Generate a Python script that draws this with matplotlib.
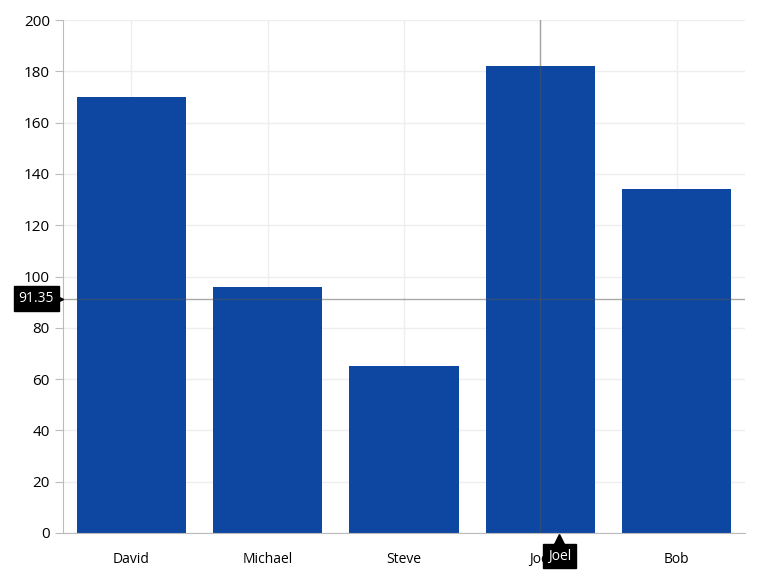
import matplotlib.pyplot as plt
from matplotlib.transforms import blended_transform_factory

names = ["David", "Michael", "Steve", "Joel", "Bob"]
values = [170, 96, 65, 182, 134]
cross_x = "Joel"
cross_y = 91.35

plt.rcParams["font.family"] = ["Open Sans", "DejaVu Sans"]

fig = plt.figure(figsize=(7.7, 5.82), dpi=100)
ax = fig.add_axes([63 / 770, 49 / 582, 682 / 770, 513 / 582])

x = list(range(len(names)))
ax.bar(x, values, width=0.8, color="#0D47A1", zorder=2)
ax.set_xlim(-0.5, len(names) - 0.5)
ax.set_ylim(0, 200)
ax.set_yticks(range(0, 201, 20))
ax.set_xticks(x)
ax.set_xticklabels(names, fontsize=10)
ax.tick_params(axis="y", labelsize=11, length=6, color="#bbbbbb")
ax.tick_params(axis="x", length=0, pad=14)
ax.grid(True, axis="y", color="#eeeeee", lw=1, zorder=0)
for i in x:
    ax.axvline(i, color="#eeeeee", lw=1, zorder=0)
for s in ["top", "right"]:
    ax.spines[s].set_visible(False)
for s in ["left", "bottom"]:
    ax.spines[s].set_color("#bbbbbb")

# crosshair
cx = names.index(cross_x)
ax.axvline(cx, color="#555555", lw=1, alpha=0.5, zorder=3)
ax.axhline(cross_y, color="#555555", lw=1, alpha=0.5, zorder=3)

box = dict(boxstyle="square,pad=0.35", fc="black", ec="black")
ty = blended_transform_factory(ax.transAxes, ax.transData)
ax.text(-0.013, cross_y, f"{cross_y:.2f}", transform=ty, ha="right", va="center",
        color="white", fontsize=10, bbox=box, clip_on=False, zorder=5)
ax.plot([-0.007], [cross_y], marker=">", color="black", ms=7, transform=ty, clip_on=False, zorder=5)
tx = blended_transform_factory(ax.transData, ax.transAxes)
ax.text(cx + 0.14, -0.045, cross_x, transform=tx, ha="center", va="center",
        color="white", fontsize=10, bbox=box, clip_on=False, zorder=5)
ax.plot([cx + 0.14], [-0.012], marker="^", color="black", ms=7, transform=tx, clip_on=False, zorder=5)

fig.savefig("out.png", dpi=100)
